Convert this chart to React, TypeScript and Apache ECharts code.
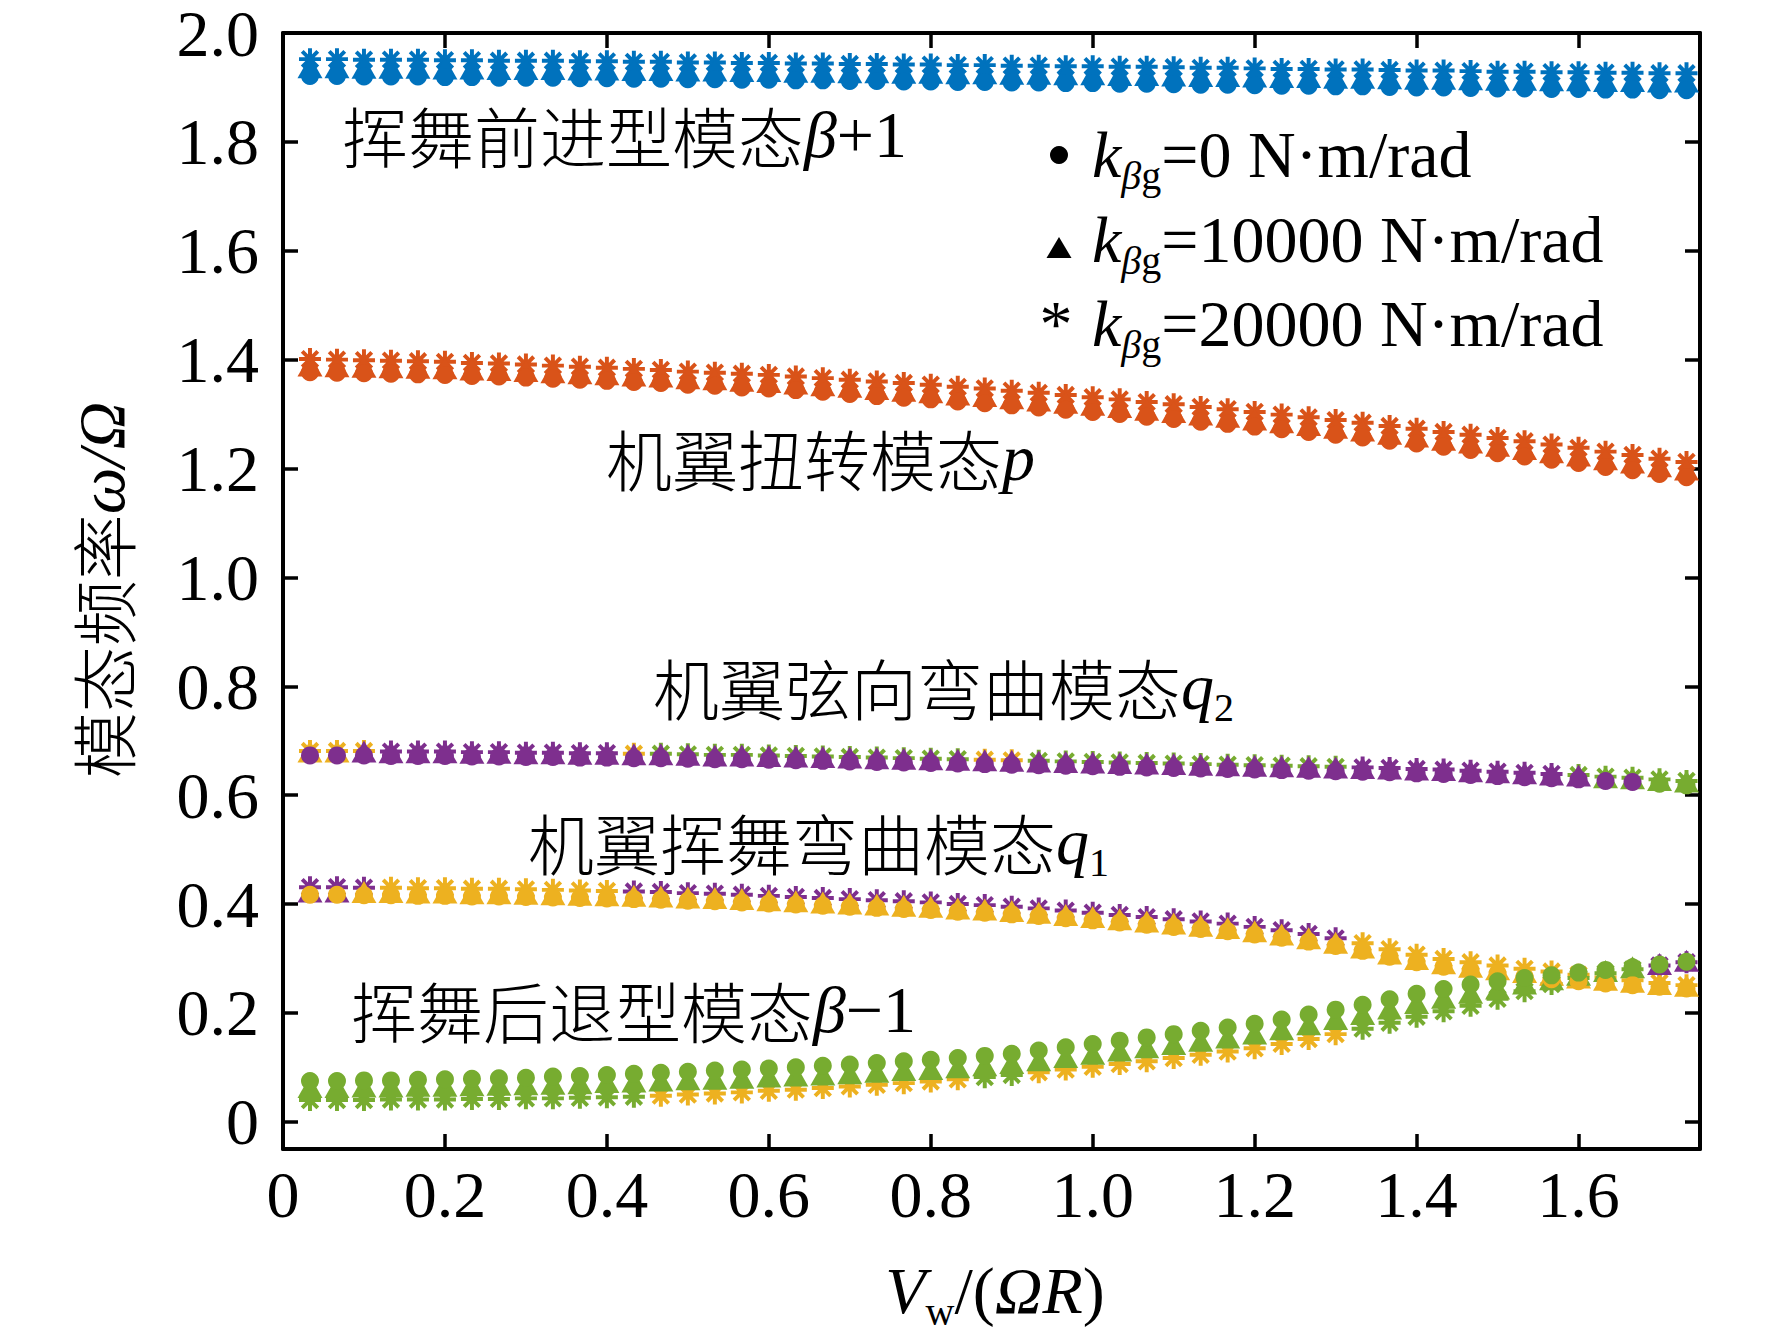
import React, { useEffect, useRef } from "react";
import * as echarts from "echarts";

// ---------------- data ----------------
// abscissa V_w/(ΩR): samples n/30, n = 1..52
const X_STEP = 1 / 30;
const X_TICKS = [0, 0.2, 0.4, 0.6, 0.8, 1.0, 1.2, 1.4, 1.6];
const Y_TICKS = [0, 0.2, 0.4, 0.6, 0.8, 1.0, 1.2, 1.4, 1.6, 1.8, 2.0];

// 挥舞前进型模态 β+1
const betaPlusDot = [
  1.921, 1.921, 1.92, 1.92, 1.92, 1.919, 1.919, 1.918, 1.918, 1.918,
  1.917, 1.917, 1.916, 1.916, 1.915, 1.915, 1.914, 1.914, 1.913, 1.913,
  1.912, 1.912, 1.911, 1.911, 1.91, 1.91, 1.909, 1.909, 1.908, 1.908,
  1.907, 1.907, 1.906, 1.905, 1.905, 1.904, 1.903, 1.903, 1.902, 1.902,
  1.901, 1.9, 1.9, 1.899, 1.898, 1.898, 1.897, 1.897, 1.896, 1.896,
  1.895, 1.895,
];
const betaPlusTri = [
  1.937, 1.937, 1.936, 1.936, 1.936, 1.935, 1.935, 1.934, 1.934, 1.934,
  1.933, 1.933, 1.932, 1.932, 1.931, 1.931, 1.93, 1.93, 1.929, 1.929,
  1.928, 1.928, 1.927, 1.927, 1.926, 1.926, 1.925, 1.925, 1.924, 1.924,
  1.923, 1.923, 1.922, 1.921, 1.921, 1.92, 1.919, 1.919, 1.918, 1.918,
  1.917, 1.916, 1.916, 1.915, 1.914, 1.914, 1.913, 1.913, 1.912, 1.912,
  1.911, 1.911,
];
const betaPlusAst = [
  1.952, 1.952, 1.951, 1.951, 1.951, 1.95, 1.95, 1.949, 1.949, 1.949,
  1.948, 1.948, 1.947, 1.947, 1.946, 1.946, 1.945, 1.945, 1.944, 1.944,
  1.943, 1.943, 1.942, 1.942, 1.941, 1.941, 1.94, 1.94, 1.939, 1.939,
  1.938, 1.938, 1.937, 1.936, 1.936, 1.935, 1.934, 1.934, 1.933, 1.933,
  1.932, 1.931, 1.931, 1.93, 1.929, 1.929, 1.928, 1.928, 1.927, 1.927,
  1.926, 1.926,
];

// 机翼扭转模态 p
const pitchDot = [
  1.377, 1.376, 1.375, 1.374, 1.373, 1.372, 1.37, 1.369, 1.367, 1.365,
  1.363, 1.361, 1.359, 1.357, 1.354, 1.352, 1.349, 1.347, 1.344, 1.341,
  1.337, 1.333, 1.33, 1.327, 1.323, 1.32, 1.316, 1.312, 1.308, 1.304,
  1.3, 1.295, 1.291, 1.286, 1.282, 1.277, 1.272, 1.267, 1.262, 1.257,
  1.251, 1.246, 1.24, 1.234, 1.228, 1.222, 1.216, 1.21, 1.203, 1.197,
  1.19, 1.184,
];
const pitchTri = [
  1.389, 1.388, 1.387, 1.386, 1.385, 1.384, 1.382, 1.381, 1.379, 1.377,
  1.375, 1.373, 1.371, 1.369, 1.366, 1.364, 1.361, 1.359, 1.356, 1.353,
  1.35, 1.346, 1.343, 1.34, 1.336, 1.333, 1.329, 1.325, 1.321, 1.317,
  1.313, 1.308, 1.304, 1.299, 1.295, 1.29, 1.285, 1.28, 1.275, 1.27,
  1.264, 1.259, 1.253, 1.248, 1.242, 1.236, 1.23, 1.224, 1.217, 1.211,
  1.204, 1.198,
];
const pitchAst = [
  1.401, 1.4, 1.399, 1.398, 1.397, 1.396, 1.394, 1.393, 1.391, 1.389,
  1.387, 1.385, 1.383, 1.381, 1.378, 1.376, 1.374, 1.372, 1.369, 1.366,
  1.363, 1.36, 1.357, 1.354, 1.35, 1.347, 1.343, 1.339, 1.335, 1.331,
  1.327, 1.322, 1.318, 1.313, 1.309, 1.304, 1.299, 1.294, 1.289, 1.284,
  1.278, 1.273, 1.267, 1.262, 1.256, 1.25, 1.244, 1.238, 1.231, 1.225,
  1.218, 1.212,
];

// 机翼弦向弯曲模态 q2
const q2Dot = [
  0.673, 0.673, 0.673, 0.672, 0.672, 0.672, 0.671, 0.671, 0.67, 0.67,
  0.669, 0.669, 0.668, 0.668, 0.667, 0.666, 0.666, 0.665, 0.664, 0.663,
  0.662, 0.661, 0.66, 0.659, 0.658, 0.657, 0.656, 0.655, 0.654, 0.653,
  0.652, 0.651, 0.65, 0.649, 0.648, 0.647, 0.646, 0.645, 0.644, 0.643,
  0.642, 0.64, 0.639, 0.637, 0.635, 0.633, 0.631, 0.629, 0.626, 0.624,
  0.621, 0.618,
];
const q2Tri = [
  0.68, 0.68, 0.68, 0.679, 0.679, 0.679, 0.678, 0.678, 0.677, 0.677,
  0.676, 0.676, 0.675, 0.675, 0.674, 0.673, 0.673, 0.672, 0.671, 0.67,
  0.669, 0.668, 0.667, 0.666, 0.665, 0.664, 0.663, 0.662, 0.661, 0.66,
  0.659, 0.658, 0.657, 0.656, 0.655, 0.654, 0.653, 0.652, 0.651, 0.65,
  0.649, 0.647, 0.646, 0.644, 0.642, 0.64, 0.638, 0.636, 0.633, 0.631,
  0.628, 0.625,
];
const q2Ast = [
  0.681, 0.681, 0.681, 0.68, 0.68, 0.68, 0.679, 0.679, 0.678, 0.678,
  0.677, 0.677, 0.676, 0.676, 0.675, 0.674, 0.674, 0.673, 0.672, 0.671,
  0.67, 0.669, 0.668, 0.667, 0.666, 0.665, 0.664, 0.663, 0.662, 0.661,
  0.66, 0.659, 0.658, 0.657, 0.656, 0.655, 0.654, 0.653, 0.652, 0.651,
  0.65, 0.648, 0.647, 0.645, 0.643, 0.641, 0.639, 0.637, 0.634, 0.632,
  0.629, 0.626,
];

// 机翼挥舞弯曲模态 q1
const q1Dot = [
  0.417, 0.417, 0.416, 0.416, 0.415, 0.415, 0.414, 0.414, 0.413, 0.412,
  0.411, 0.41, 0.409, 0.408, 0.406, 0.405, 0.403, 0.401, 0.399, 0.397,
  0.395, 0.393, 0.391, 0.389, 0.386, 0.384, 0.381, 0.378, 0.374, 0.37,
  0.366, 0.362, 0.358, 0.354, 0.35, 0.344, 0.338, 0.331, 0.323, 0.314,
  0.303, 0.293, 0.285, 0.279, 0.273, 0.267, 0.262, 0.258, 0.254, 0.251,
  0.248, 0.245,
];
const q1Tri = [
  0.423, 0.423, 0.422, 0.422, 0.421, 0.421, 0.42, 0.42, 0.419, 0.418,
  0.417, 0.416, 0.415, 0.414, 0.412, 0.411, 0.409, 0.407, 0.405, 0.403,
  0.401, 0.399, 0.397, 0.395, 0.392, 0.39, 0.387, 0.384, 0.38, 0.376,
  0.372, 0.368, 0.364, 0.36, 0.356, 0.35, 0.344, 0.337, 0.329, 0.32,
  0.309, 0.299, 0.291, 0.285, 0.28, 0.275, 0.27, 0.265, 0.261, 0.257,
  0.253, 0.25,
];
const q1Ast = [
  0.431, 0.431, 0.43, 0.43, 0.429, 0.429, 0.428, 0.428, 0.427, 0.426,
  0.425, 0.424, 0.423, 0.422, 0.42, 0.419, 0.417, 0.415, 0.413, 0.411,
  0.409, 0.407, 0.405, 0.403, 0.4, 0.398, 0.395, 0.392, 0.388, 0.384,
  0.38, 0.376, 0.372, 0.368, 0.364, 0.358, 0.352, 0.345, 0.337, 0.328,
  0.317, 0.307, 0.299, 0.293, 0.287, 0.281, 0.276, 0.27, 0.265, 0.26,
  0.255, 0.251,
];

// 挥舞后退型模态 β-1
const betaMinusDot = [
  0.075, 0.075, 0.076, 0.076, 0.077, 0.078, 0.079, 0.08, 0.081, 0.083,
  0.084, 0.086, 0.088, 0.09, 0.092, 0.094, 0.096, 0.098, 0.1, 0.103,
  0.105, 0.108, 0.111, 0.114, 0.117, 0.121, 0.125, 0.131, 0.137, 0.143,
  0.149, 0.155, 0.161, 0.167, 0.173, 0.18, 0.188, 0.197, 0.206, 0.215,
  0.225, 0.235, 0.244, 0.252, 0.258, 0.264, 0.269, 0.274, 0.279, 0.284,
  0.289, 0.294,
];
const betaMinusTri = [
  0.064, 0.064, 0.065, 0.065, 0.066, 0.066, 0.067, 0.068, 0.069, 0.07,
  0.071, 0.073, 0.074, 0.076, 0.078, 0.079, 0.081, 0.083, 0.085, 0.087,
  0.089, 0.092, 0.095, 0.097, 0.1, 0.104, 0.108, 0.113, 0.119, 0.125,
  0.131, 0.137, 0.143, 0.149, 0.155, 0.162, 0.17, 0.179, 0.189, 0.198,
  0.208, 0.218, 0.228, 0.237, 0.245, 0.254, 0.262, 0.27, 0.277, 0.284,
  0.29, 0.296,
];
const betaMinusAst = [
  0.04, 0.04, 0.04, 0.041, 0.041, 0.041, 0.042, 0.042, 0.043, 0.043,
  0.044, 0.045, 0.046, 0.048, 0.05, 0.052, 0.054, 0.057, 0.059, 0.062,
  0.065, 0.068, 0.071, 0.074, 0.078, 0.082, 0.086, 0.091, 0.096, 0.101,
  0.106, 0.111, 0.117, 0.123, 0.129, 0.135, 0.143, 0.152, 0.161, 0.171,
  0.182, 0.193, 0.203, 0.213, 0.226, 0.24, 0.253, 0.264, 0.273, 0.28,
  0.287, 0.293,
];

// colour of each sample (run-length: letter + count)
const betaPlusColors = "B52";
const pitchColors = "O52";
const q2DotColors = "P50 G2";
const q2TriColors = "Y2 P46 G4";
const q2AstColors = "Y3 P9 Y1 G12 Y2 G12 P8 G5";
const q1DotColors = "Y52";
const q1TriColors = "P2 Y50";
const q1AstColors = "P3 Y9 P27 Y13";
const betaMinusDotColors = "G52";
const betaMinusTriColors = "G50 P2";
const betaMinusAstColors = "G13 Y12 G2 Y12 G11 P2";

const PALETTE: Record<string, string> = {
  B: "#0072BD",
  O: "#D95319",
  Y: "#EDB120",
  P: "#7E2F8E",
  G: "#77AC30",
};

const CURVES = [
  { marker: "dot", values: betaPlusDot, colors: betaPlusColors },
  { marker: "tri", values: betaPlusTri, colors: betaPlusColors },
  { marker: "ast", values: betaPlusAst, colors: betaPlusColors },
  { marker: "dot", values: pitchDot, colors: pitchColors },
  { marker: "tri", values: pitchTri, colors: pitchColors },
  { marker: "ast", values: pitchAst, colors: pitchColors },
  { marker: "dot", values: q2Dot, colors: q2DotColors },
  { marker: "tri", values: q2Tri, colors: q2TriColors },
  { marker: "ast", values: q2Ast, colors: q2AstColors },
  { marker: "dot", values: q1Dot, colors: q1DotColors },
  { marker: "tri", values: q1Tri, colors: q1TriColors },
  { marker: "ast", values: q1Ast, colors: q1AstColors },
  { marker: "dot", values: betaMinusDot, colors: betaMinusDotColors },
  { marker: "tri", values: betaMinusTri, colors: betaMinusTriColors },
  { marker: "ast", values: betaMinusAst, colors: betaMinusAstColors },
];

// ---------------- styling ----------------
const SERIF = '"Liberation Serif", "Times New Roman", serif';
const CJK = '"Noto Sans CJK SC", sans-serif';
const ASTERISK =
  "path://M41 0L59 0L59 100L41 100Z M0 41L100 41L100 59L0 59Z " +
  "M78.99 8.28L91.72 21.01L21.01 91.72L8.28 78.99Z " +
  "M8.28 21.01L21.01 8.28L91.72 78.99L78.99 91.72Z";

const MARKER_STYLE: Record<string, { symbol: string; size: any }> = {
  ast: { symbol: ASTERISK, size: 22 },
  tri: { symbol: "triangle", size: [25, 22] },
  dot: { symbol: "circle", size: 18 },
};

function decodeColors(rle: string): string[] {
  const out: string[] = [];
  rle.split(" ").forEach((part) => {
    const key = part[0];
    const count = parseInt(part.slice(1), 10);
    for (let i = 0; i < count; i++) out.push(key);
  });
  return out;
}

const FS = 66;
const SUB_PAD = 34;
const RICH: any = {
  c: { fontSize: FS, fontFamily: CJK, fontWeight: 300, fill: "#000", lineHeight: 70, verticalAlign: "top" },
  r: { fontSize: FS, fontFamily: SERIF, fill: "#000", lineHeight: 70, verticalAlign: "top" },
  i: { fontSize: FS, fontFamily: SERIF, fontStyle: "italic", fill: "#000", lineHeight: 70, verticalAlign: "top" },
  s: { fontSize: 40, fontFamily: SERIF, fill: "#000", lineHeight: 70, verticalAlign: "top", padding: [SUB_PAD, 0, 0, 0] },
  si: {
    fontSize: 40,
    fontFamily: SERIF,
    fontStyle: "italic",
    fill: "#000",
    lineHeight: 70,
    verticalAlign: "top",
    padding: [SUB_PAD, 0, 0, 0],
  },
};

function richText(text: string, x: number, centerY: number, align = "left") {
  return {
    type: "text",
    x,
    y: centerY - 33,
    silent: true,
    style: { text, rich: RICH, align, verticalAlign: "top" },
  };
}

function tickFormatter(v: number) {
  return Math.abs(v) < 1e-9 ? "0" : v.toFixed(1);
}

function buildOption() {
  const series: any[] = [];
  ["ast", "tri", "dot"].forEach((marker) => {
    Object.keys(PALETTE).forEach((key) => {
      const pts: number[][] = [];
      CURVES.filter((c) => c.marker === marker).forEach((c) => {
        const codes = decodeColors(c.colors);
        c.values.forEach((v, i) => {
          if (codes[i] === key) pts.push([(i + 1) * X_STEP, v]);
        });
      });
      if (!pts.length) return;
      series.push({
        type: "scatter",
        xAxisIndex: 0,
        yAxisIndex: 0,
        data: pts,
        symbol: MARKER_STYLE[marker].symbol,
        symbolSize: MARKER_STYLE[marker].size,
        itemStyle: { color: PALETTE[key], opacity: 1 },
        emphasis: { disabled: true },
        clip: false,
        silent: true,
      });
    });
  });

  const lineStyle = { color: "#000", width: 4 };
  const tickStyle = { color: "#000", width: 3.5 };
  const labelStyle = { fontSize: FS, fontFamily: SERIF, color: "#000", lineHeight: 50, formatter: tickFormatter };

  const xBase = {
    type: "value",
    min: 0,
    max: 1.75,
    splitLine: { show: false },
    axisLine: { show: true, onZero: false, lineStyle },
    axisTick: { show: true, inside: true, length: 15, lineStyle: tickStyle, customValues: X_TICKS },
  };
  const yBase = {
    type: "value",
    min: -0.05,
    max: 2.0,
    splitLine: { show: false },
    axisLine: { show: true, onZero: false, lineStyle },
    axisTick: { show: true, inside: true, length: 15, lineStyle: tickStyle, customValues: Y_TICKS },
  };

  const graphic: any[] = [
    // annotations
    richText("{c|挥舞前进型模态}{i|β}{r|+1}", 342, 134),
    richText("{c|机翼扭转模态}{i|p}", 606, 457),
    richText("{c|机翼弦向弯曲模态}{i|q}{s|2}", 653, 686),
    richText("{c|机翼挥舞弯曲模态}{i|q}{s|1}", 528, 841),
    richText("{c|挥舞后退型模态}{i|β}{r|−1}", 351, 1009),
    // legend
    { type: "circle", silent: true, shape: { cx: 1059, cy: 155, r: 9 }, style: { fill: "#000" } },
    {
      type: "polygon",
      silent: true,
      shape: { points: [[1046.5, 258], [1071.5, 258], [1059, 237]] },
      style: { fill: "#000" },
    },
    {
      type: "text",
      silent: true,
      x: 1056,
      y: 323,
      style: { text: "*", fontSize: FS, fontFamily: SERIF, fill: "#000", align: "center", verticalAlign: "middle" },
    },
    richText("{i|k}{si|β}{s|g}{r|=0 N·m/rad}", 1092, 154),
    richText("{i|k}{si|β}{s|g}{r|=10000 N·m/rad}", 1092, 239),
    richText("{i|k}{si|β}{s|g}{r|=20000 N·m/rad}", 1092, 323),
    // axis names
    richText("{i|V}{s|w}{r|/(}{i|ΩR}{r|)}", 995, 1290, "center"),
    {
      type: "text",
      silent: true,
      x: 103,
      y: 590,
      rotation: Math.PI / 2,
      style: { text: "{c|模态频率}{i|ω/Ω}", rich: RICH, align: "center", verticalAlign: "middle" },
    },
  ];

  return {
    animation: false,
    backgroundColor: "#fff",
    grid: { left: 283, right: 72, top: 33, bottom: 185, containLabel: false, outerBoundsMode: "none" },
    xAxis: [
      {
        ...xBase,
        position: "bottom",
        axisLabel: { ...labelStyle, margin: 20, customValues: X_TICKS },
      },
      { ...xBase, position: "top", axisLabel: { show: false } },
    ],
    yAxis: [
      {
        ...yBase,
        position: "left",
        axisLabel: { ...labelStyle, margin: 24, customValues: Y_TICKS },
      },
      { ...yBase, position: "right", axisLabel: { show: false } },
    ],
    series,
    graphic,
  };
}

export default function App() {
  const ref = useRef<HTMLDivElement>(null);
  useEffect(() => {
    if (!ref.current) return;
    const chart = echarts.init(ref.current, null, { renderer: "svg" });
    chart.setOption(buildOption() as any);
    return () => chart.dispose();
  }, []);
  return (
    <div
      ref={ref}
      style={{ position: "absolute", left: 0, top: 0, width: 1772, height: 1334, background: "#fff" }}
    />
  );
}
